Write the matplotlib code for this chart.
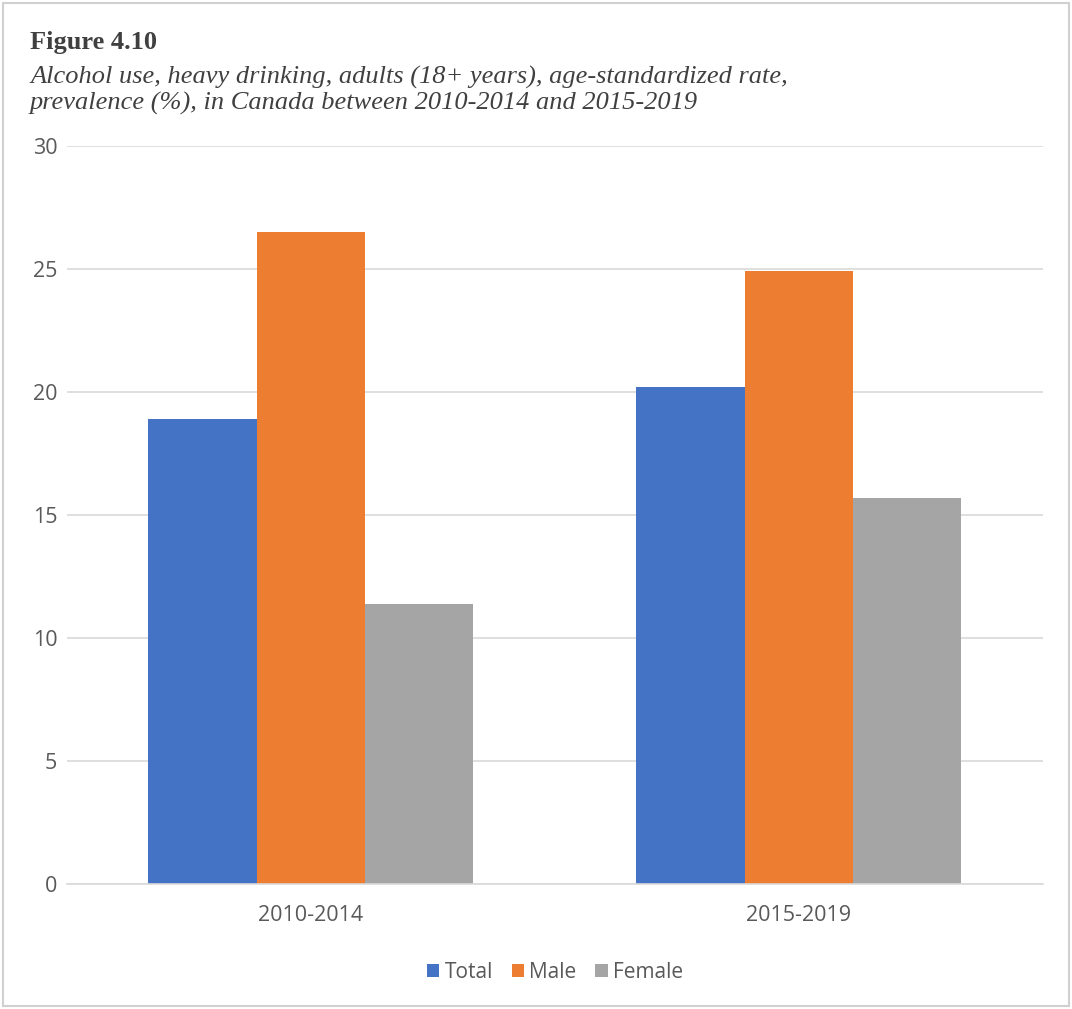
import matplotlib.pyplot as plt
import numpy as np
from matplotlib.patches import Rectangle

periods = ["2010-2014", "2015-2019"]
total = [18.9, 20.2]
male = [26.5, 24.9]
female = [11.4, 15.7]

plt.rcParams['font.family'] = ['Open Sans', 'DejaVu Sans']

fig = plt.figure(figsize=(10.72, 10.09), dpi=100)
ax = fig.add_axes([0.0625, 0.1239, 0.9104, 0.7314])

x = np.arange(len(periods))
w = 0.222
ax.bar(x - w, total, w, color="#4472C4", label="Total")
ax.bar(x, male, w, color="#ED7D31", label="Male")
ax.bar(x + w, female, w, color="#A5A5A5", label="Female")

ax.set_xlim(-0.5, 1.5)
ax.set_ylim(0, 30)
ax.set_yticks(range(0, 31, 5))
ax.set_xticks(x)
ax.set_xticklabels(periods)
ax.yaxis.grid(True, color="#D9D9D9", linewidth=1.2)
ax.set_axisbelow(True)
for s in ["top", "right", "left"]:
    ax.spines[s].set_visible(False)
ax.spines["bottom"].set_color("#D9D9D9")
ax.spines["bottom"].set_linewidth(1.2)
ax.tick_params(axis="both", length=0, labelsize=15.5, colors="#595959")
ax.tick_params(axis="y", pad=7)
ax.tick_params(axis="x", pad=15)

ax.legend(loc="upper center", bbox_to_anchor=(0.5, -0.08), ncol=3, frameon=False,
          fontsize=15, handlelength=0.6, handleheight=0.6, handletextpad=0.25,
          columnspacing=0.9, labelcolor="#595959")

fig.text(0.028, 0.951, "Figure 4.10", family="Liberation Serif", fontweight="bold",
         fontsize=19, color="#404040", va="baseline")
fig.text(0.028, 0.917, "Alcohol use, heavy drinking, adults (18+ years), age-standardized rate,",
         family="Liberation Serif", style="italic", fontsize=19, color="#404040", va="baseline")
fig.text(0.028, 0.891, "prevalence (%), in Canada between 2010-2014 and 2015-2019",
         family="Liberation Serif", style="italic", fontsize=19, color="#404040", va="baseline")

fig.patches.append(Rectangle((0.003, 0.003), 0.994, 0.994, transform=fig.transFigure,
                             fill=False, edgecolor="#D0D0D0", linewidth=1.5))

fig.savefig("out.png", dpi=100)
